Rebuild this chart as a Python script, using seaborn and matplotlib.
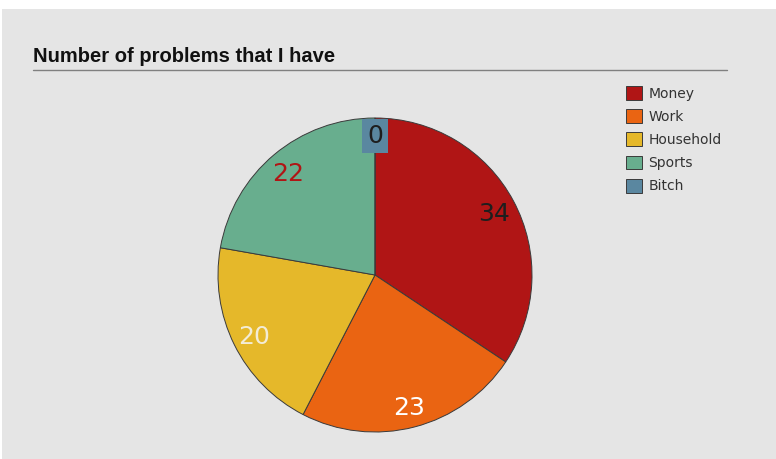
import matplotlib
matplotlib.use('Agg')
import matplotlib.pyplot as plt
import seaborn as sns
from matplotlib.patches import Rectangle

categories = ['Money', 'Work', 'Household', 'Sports', 'Bitch']
counts = [34, 23, 20, 22, 0]
slice_colors = ['#b01515', '#ea6412', '#e5b82a', '#68ae8e', '#5a87a0']
label_colors = ['#1e1e1e', '#ffffff', '#f3ecd6', '#b01515', '#1e1e1e']
title = 'Number of problems that I have'

sns.set_style('white')
plt.rcParams['font.family'] = ['DejaVu Sans']

W, H = 776, 459
fig = plt.figure(figsize=(W / 100, H / 100), dpi=100, facecolor='white')
# grey panel (thin white strip on top and left in the reference)
fig.patches.append(Rectangle((2 / W, 0), 1, (H - 9) / H, transform=fig.transFigure,
                             facecolor='#e5e5e5', edgecolor='none', zorder=-10))

cx, cy, r = 375, 275, 157
ax = fig.add_axes([(cx - r) / W, (H - cy - r) / H, 2 * r / W, 2 * r / H])
ax.set_facecolor('none')

total = sum(counts)
wedges, _, autotexts = ax.pie(
    counts, colors=slice_colors, startangle=90, counterclock=False,
    autopct=lambda p: '%d' % round(p * total / 100), pctdistance=0.86,
    wedgeprops=dict(edgecolor='#3a3a3a', linewidth=0.7, clip_on=False),
    textprops=dict(fontsize=18))
for t, c in zip(autotexts, label_colors):
    t.set_color(c)
    t.set_va('center_baseline')
# the empty slice gets a box in its own colour
zero = autotexts[-1]
x0, y0 = zero.get_position()
zero.set_position((x0, y0 * 1.05))
zero.set_bbox(dict(boxstyle='square,pad=0.2', facecolor=slice_colors[-1], edgecolor='none'))
ax.set_xlim(-1, 1)
ax.set_ylim(-1, 1)

fig.text(33 / W, (H - 62) / H, title, fontsize=14.5, fontweight='bold',
         family=['Liberation Sans', 'DejaVu Sans'], color='#111111')
fig.add_artist(plt.Line2D([33 / W, 727 / W], [(H - 70) / H] * 2, color='#808080', lw=1))

fig.legend(wedges, categories, loc='upper left', bbox_to_anchor=(626 / W, (H - 86) / H),
           frameon=False, fontsize=10, borderpad=0, borderaxespad=0,
           handlelength=1.15, handleheight=1.15, handletextpad=0.45, labelspacing=0.62,
           labelcolor='#333333')

fig.savefig('out.png', dpi=100, facecolor=fig.get_facecolor())
